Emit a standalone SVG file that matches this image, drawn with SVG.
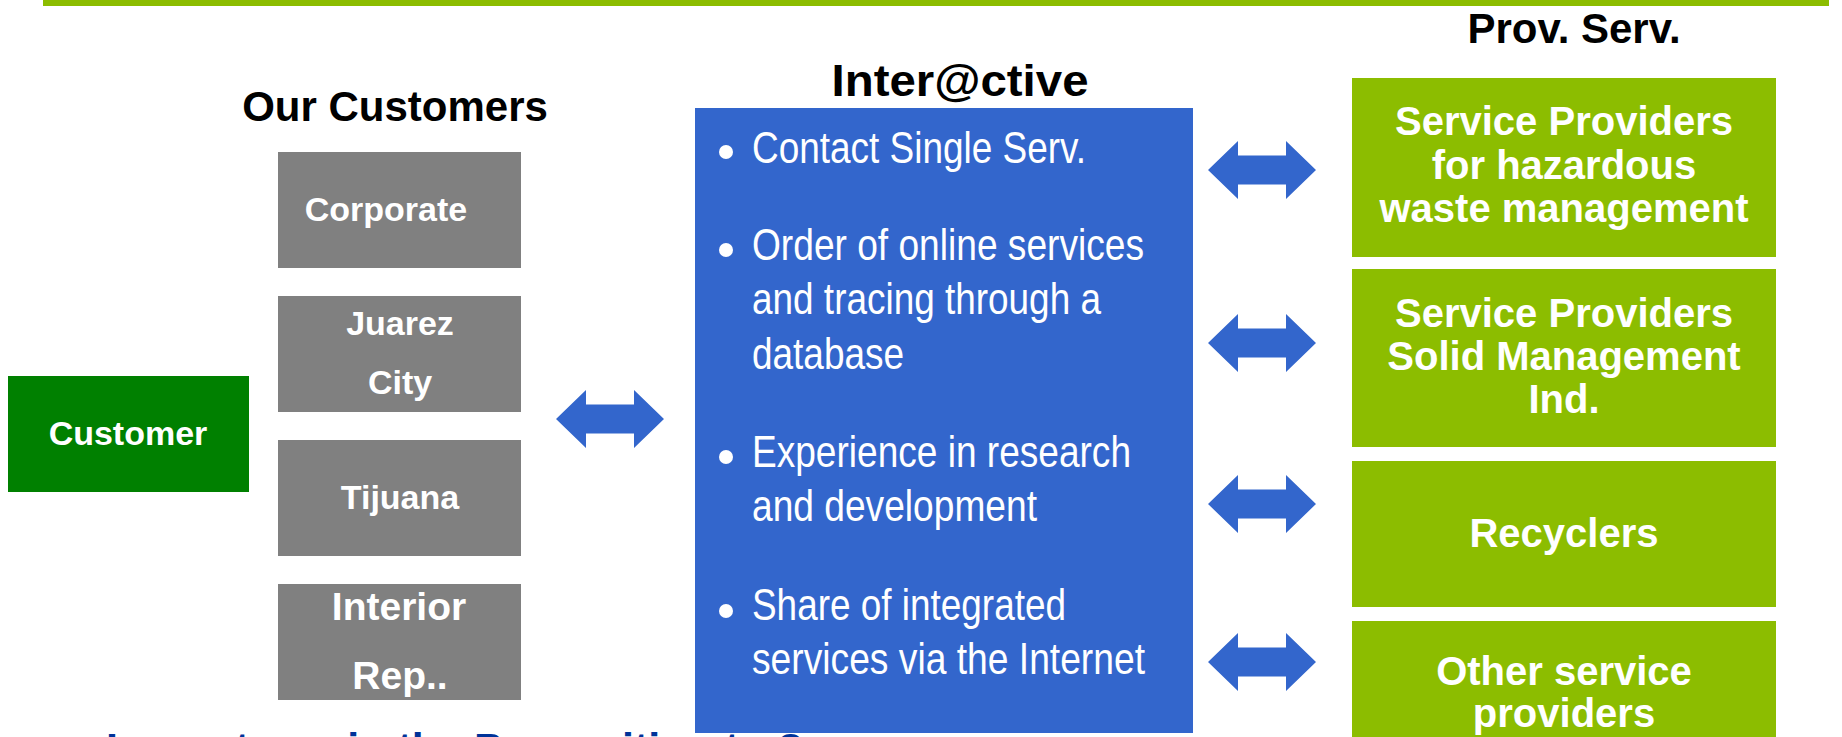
<svg xmlns="http://www.w3.org/2000/svg" xmlns:xlink="http://www.w3.org/1999/xlink" width="1842" height="737" viewBox="0 0 1842 737">
<style>
  .title { font-family: "Liberation Sans", Arial, sans-serif; font-weight: bold; fill: #000000; text-anchor: middle; }
  .gray { fill: #808080; }
  .green { fill: #8CBD00; }
  .lbl { font-family: "Liberation Sans", Arial, sans-serif; font-weight: bold; fill: #FFFFFF; text-anchor: middle; }
  .bul { font-family: "Liberation Sans", Arial, sans-serif; font-size: 45px; fill: #FFFFFF; }
  .dot { fill: #FFFFFF; }
  .arrow { fill: #3366CC; }
</style>
<defs>
  <path id="dblArrow" d="M0,0 L30,-29 L30,-14.5 L78,-14.5 L78,-29 L108,0 L78,29 L78,14.5 L30,14.5 L30,29 Z"/>
</defs>
<rect width="1842" height="737" fill="#FFFFFF"/>
<rect id="topbar" x="43" y="0" width="1786" height="6" fill="#8CBD00"/>

<text id="bottom-text" x="106" y="763" font-family="'Liberation Sans', Arial, sans-serif" font-weight="bold" font-size="43" fill="#003399">Is our team in the Proposition to ?</text>

<text id="title-customers" class="title" x="395" y="121" font-size="42">Our Customers</text>
<text id="title-interactive" class="title" x="960" y="96" font-size="44" textLength="257" lengthAdjust="spacingAndGlyphs">Inter@ctive</text>
<text id="title-prov" class="title" x="1574" y="43" font-size="42">Prov. Serv.</text>

<g id="customer">
  <rect x="8" y="376" width="241" height="116" fill="#008000"/>
  <text class="lbl" x="128" y="445" font-size="34">Customer</text>
</g>

<g id="corporate">
  <rect class="gray" x="278" y="152" width="243" height="116"/>
  <text class="lbl" x="386" y="221" font-size="34">Corporate</text>
</g>
<g id="juarez">
  <rect class="gray" x="278" y="296" width="243" height="116"/>
  <text class="lbl" x="400" y="335" font-size="34">Juarez</text>
  <text class="lbl" x="400" y="394" font-size="34">City</text>
</g>
<g id="tijuana">
  <rect class="gray" x="278" y="440" width="243" height="116"/>
  <text class="lbl" x="400" y="509" font-size="34">Tijuana</text>
</g>
<g id="interior">
  <rect class="gray" x="278" y="584" width="243" height="116"/>
  <text class="lbl" x="399" y="620" font-size="39">Interior</text>
  <text class="lbl" x="400" y="689" font-size="39">Rep..</text>
</g>

<g id="interactive">
  <rect x="695" y="108" width="498" height="625" fill="#3366CC"/>
  <circle class="dot" cx="726" cy="152" r="7"/>
  <circle class="dot" cx="726" cy="250" r="7"/>
  <circle class="dot" cx="726" cy="457" r="7"/>
  <circle class="dot" cx="726" cy="611" r="7"/>
  <text class="bul" x="752" y="163" textLength="334" lengthAdjust="spacingAndGlyphs">Contact Single Serv.</text>
  <text class="bul" x="752" y="260" textLength="392" lengthAdjust="spacingAndGlyphs">Order of online services</text>
  <text class="bul" x="752" y="314" textLength="349" lengthAdjust="spacingAndGlyphs">and tracing through a</text>
  <text class="bul" x="752" y="369" textLength="152" lengthAdjust="spacingAndGlyphs">database</text>
  <text class="bul" x="752" y="467" textLength="379" lengthAdjust="spacingAndGlyphs">Experience in research</text>
  <text class="bul" x="752" y="521" textLength="285" lengthAdjust="spacingAndGlyphs">and development</text>
  <text class="bul" x="752" y="620" textLength="314" lengthAdjust="spacingAndGlyphs">Share of integrated</text>
  <text class="bul" x="752" y="674" textLength="393" lengthAdjust="spacingAndGlyphs">services via the Internet</text>
</g>

<g id="hazardous">
  <rect class="green" x="1352" y="78" width="424" height="179"/>
  <text class="lbl" x="1564" y="135" font-size="40">Service Providers</text>
  <text class="lbl" x="1564" y="179" font-size="40">for hazardous</text>
  <text class="lbl" x="1564" y="222" font-size="40">waste management</text>
</g>
<g id="solid">
  <rect class="green" x="1352" y="269" width="424" height="178"/>
  <text class="lbl" x="1564" y="327" font-size="40">Service Providers</text>
  <text class="lbl" x="1564" y="370" font-size="40">Solid Management</text>
  <text class="lbl" x="1564" y="413" font-size="40">Ind.</text>
</g>
<g id="recyclers">
  <rect class="green" x="1352" y="461" width="424" height="146"/>
  <text class="lbl" x="1564" y="547" font-size="40">Recyclers</text>
</g>
<g id="other">
  <rect class="green" x="1352" y="621" width="424" height="130"/>
  <text class="lbl" x="1564" y="685" font-size="40">Other service</text>
  <text class="lbl" x="1564" y="727" font-size="40">providers</text>
</g>

<g id="connectors">
  <use class="arrow" xlink:href="#dblArrow" href="#dblArrow" transform="translate(556,419)"/>
  <use class="arrow" xlink:href="#dblArrow" href="#dblArrow" transform="translate(1208,170)"/>
  <use class="arrow" xlink:href="#dblArrow" href="#dblArrow" transform="translate(1208,343)"/>
  <use class="arrow" xlink:href="#dblArrow" href="#dblArrow" transform="translate(1208,504)"/>
  <use class="arrow" xlink:href="#dblArrow" href="#dblArrow" transform="translate(1208,662)"/>
</g>
</svg>
